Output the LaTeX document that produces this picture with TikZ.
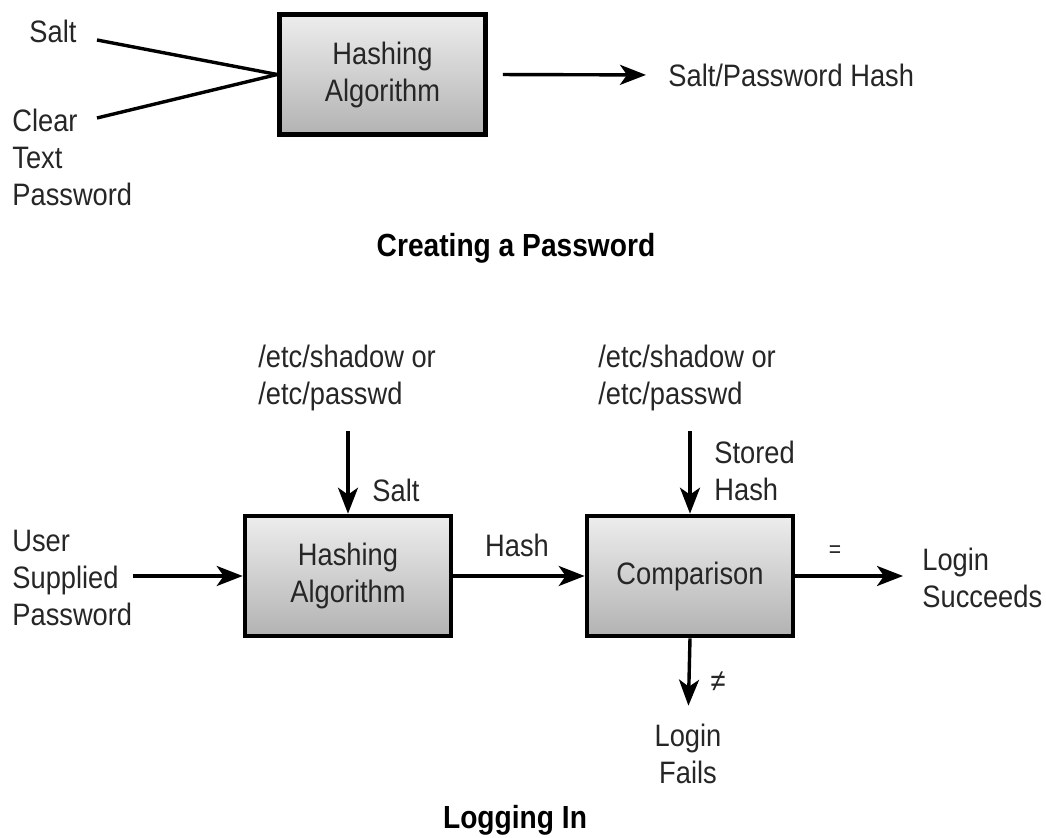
\documentclass[tikz,border=0pt]{standalone}
\usepackage{fontspec}
\setmainfont{Liberation Sans}[FakeStretch=0.88]
\usepackage{xcolor}
\usepackage{tikz}
\usetikzlibrary{arrows.meta, positioning, calc}
\definecolor{boxtop}{gray}{0.93}
\definecolor{boxbot}{gray}{0.70}
\tikzstyle{arrow} = [line width=1.7pt, -{Stealth[length=13pt, width=10pt, inset=3.5pt]}]

\begin{document}
\begin{tikzpicture}[
		x=0.5pt, y=-0.5pt,
		every node/.style={font=\fontsize{15.5}{18.5}\selectfont, text=black!85, inner sep=0pt},
		box/.style={draw=black, line width=2.3pt, top color=boxtop, bottom color=boxbot, minimum width=103pt, minimum height=60pt, align=center},
		link/.style={line width=1.7pt},
		title/.style={font=\fontsize{16}{19}\selectfont\bfseries, text=black}
		]
		\useasboundingbox (0,0) rectangle (1046,838);
		
		% Creating a password
		\node[box] (hashA) at (382.5,74.5) {Hashing\\Algorithm};
		\node (saltA) at (53,31) {Salt};
		\node[align=left, anchor=west] (clearA) at (12,157) {Clear\\Text\\Password};
		\node[anchor=west] (resultA) at (668,75) {Salt/Password Hash};
		\node[title] (titleA) at (516,248) {Creating a Password};
		
		\coordinate (saltIn) at (97,40);
		\coordinate (clearIn) at (97,118);
		\draw[link] (saltIn) -- (hashA.west);
		\draw[link] (clearIn) -- (hashA.west);
		\draw[arrow, shorten <=7.5pt, shorten >=11pt] (hashA.east) -- (resultA.west);
		
		% Logging in
		\node[box] (hashB) at (348,576) {Hashing\\Algorithm};
		\node[box] (cmp) at (690,576) {Comparison};
		\node[align=left, anchor=west] (user) at (12,578) {User\\Supplied\\Password};
		\node[align=left, anchor=west] (shadowA) at (258,378) {/etc/shadow or\\/etc/passwd};
		\node[align=left, anchor=west] (shadowB) at (598,378) {/etc/shadow or\\/etc/passwd};
		\node[anchor=west] (saltB) at (372,490) {Salt};
		\node[align=left, anchor=west] (stored) at (714,471) {Stored\\Hash};
		\node (hashLbl) at (517,545) {Hash};
		\node[font=\fontsize{12}{14}\selectfont] (eqLbl) at (835,552) {=};
		\node (neqLbl) at (718,682) {≠};
		\node[align=left, anchor=west] (success) at (922,578) {Login\\Succeeds};
		\node[align=center] (fails) at (688,754) {Login\\Fails};
		\node[title] (titleB) at (515,820) {Logging In};
		
		\draw[arrow, shorten <=10pt] (hashB.north |- shadowA.south) -- (hashB.north);
		\draw[arrow, shorten <=10pt] (cmp.north |- shadowB.south) -- (cmp.north);
		\draw[arrow] (user.east |- hashB.west) -- (hashB.west);
		\draw[arrow] (hashB.east) -- (cmp.west);
		\draw[arrow, shorten >=9.5pt] (cmp.east) -- (cmp.east -| success.west);
		\draw[arrow, shorten >=9pt] (cmp.south) -- (fails.north);
	\end{tikzpicture}
\end{document}
